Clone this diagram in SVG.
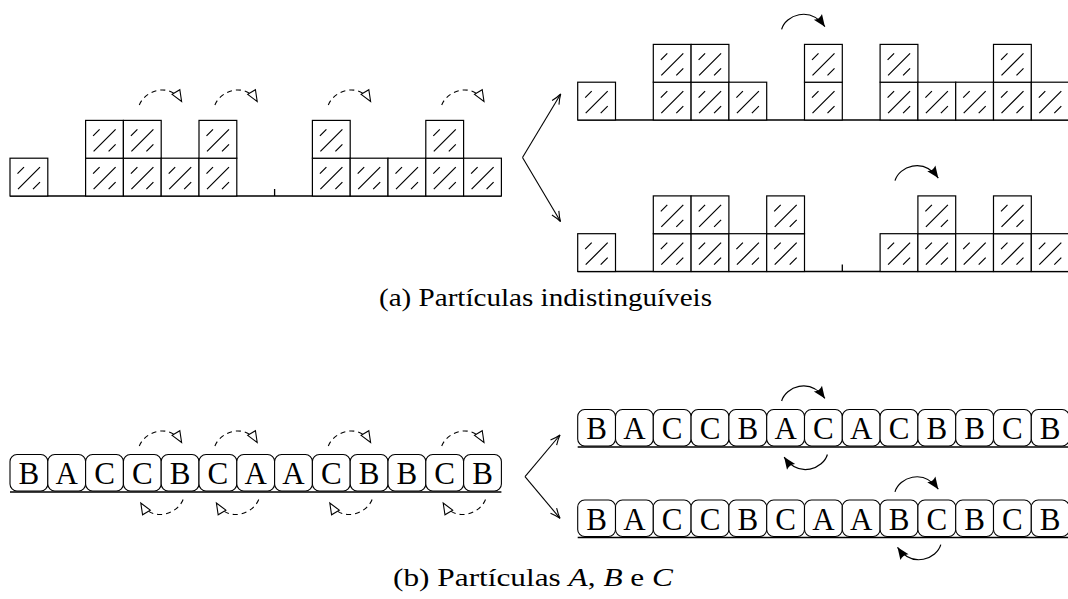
<svg xmlns="http://www.w3.org/2000/svg" width="1068" height="599" viewBox="0 0 1068 599">
<style>
.bx rect{fill:#fff;stroke:#000;stroke-width:1.2}
.bx path{fill:none;stroke:#000;stroke-width:1.2}
.ground{fill:none;stroke:#000;stroke-width:1.3}
.rb{fill:#fff;stroke:#000;stroke-width:1.1}
.lt{font-family:"Liberation Serif","Times New Roman",serif;font-size:31px;text-anchor:middle;fill:#000}
.cap{font-family:"Liberation Serif","Times New Roman",serif;font-size:25px;fill:#000}
.dash{fill:none;stroke:#000;stroke-width:1.1;stroke-dasharray:5 4;marker-end:url(#ot)}
.solid{fill:none;stroke:#000;stroke-width:1.2;marker-end:url(#ft)}
.br{fill:none;stroke:#000;stroke-width:1.1;marker-end:url(#vh)}
</style>
<defs>
<marker id="ot" markerUnits="userSpaceOnUse" markerWidth="18" markerHeight="18" viewBox="-14 -9 18 18" refX="0" refY="0" orient="auto">
<path d="M-11,-4.5 L0,0 L-11,4.5 Z" fill="#fff" stroke="#000" stroke-width="1.1" stroke-dasharray="none"/>
</marker>
<marker id="ft" markerUnits="userSpaceOnUse" markerWidth="18" markerHeight="18" viewBox="-14 -9 18 18" refX="0" refY="0" orient="auto">
<path d="M-12,-5 L0,0 L-12,5 Q-9,0 -12,-5 Z" fill="#000" stroke="none"/>
</marker>
<marker id="vh" markerUnits="userSpaceOnUse" markerWidth="16" markerHeight="16" viewBox="-13 -8 16 16" refX="0" refY="0" orient="auto">
<path d="M-10,-4 Q-4,-1 0,0 Q-4,1 -10,4" fill="none" stroke="#000" stroke-width="1.1"/>
</marker>
<g id="hb" class="bx"><rect x="0" y="0" width="37.8" height="37.8"/><path d="M7.5,15.5 L14,9 M8,31 L30,9 M23,31 L30,24"/></g>
</defs>

<!-- (a) left configuration -->
<g id="a-left">
<path class="ground" d="M10,196 H501.4 M274.6,196 V189"/>
<use href="#hb" x="10" y="158.2"/>
<use href="#hb" x="85.6" y="158.2"/><use href="#hb" x="85.6" y="120.4"/>
<use href="#hb" x="123.4" y="158.2"/><use href="#hb" x="123.4" y="120.4"/>
<use href="#hb" x="161.2" y="158.2"/>
<use href="#hb" x="199" y="158.2"/><use href="#hb" x="199" y="120.4"/>
<use href="#hb" x="312.4" y="158.2"/><use href="#hb" x="312.4" y="120.4"/>
<use href="#hb" x="350.2" y="158.2"/>
<use href="#hb" x="388" y="158.2"/>
<use href="#hb" x="425.8" y="158.2"/><use href="#hb" x="425.8" y="120.4"/>
<use href="#hb" x="463.6" y="158.2"/>
</g>

<!-- (a) upper right configuration -->
<g id="a-upper-right">
<path class="ground" d="M577.7,120 H1068"/>
<use href="#hb" x="577.7" y="82.2"/>
<use href="#hb" x="653.3" y="82.2"/><use href="#hb" x="653.3" y="44.4"/>
<use href="#hb" x="691.1" y="82.2"/><use href="#hb" x="691.1" y="44.4"/>
<use href="#hb" x="728.9" y="82.2"/>
<use href="#hb" x="804.5" y="82.2"/><use href="#hb" x="804.5" y="44.4"/>
<use href="#hb" x="880.1" y="82.2"/><use href="#hb" x="880.1" y="44.4"/>
<use href="#hb" x="917.9" y="82.2"/>
<use href="#hb" x="955.7" y="82.2"/>
<use href="#hb" x="993.5" y="82.2"/><use href="#hb" x="993.5" y="44.4"/>
<use href="#hb" x="1031.3" y="82.2"/>
</g>

<!-- (a) lower right configuration -->
<g id="a-lower-right">
<path class="ground" d="M577.7,271.5 H1068 M842.3,271.5 V264.5"/>
<use href="#hb" x="577.7" y="233.7"/>
<use href="#hb" x="653.3" y="233.7"/><use href="#hb" x="653.3" y="195.9"/>
<use href="#hb" x="691.1" y="233.7"/><use href="#hb" x="691.1" y="195.9"/>
<use href="#hb" x="728.9" y="233.7"/>
<use href="#hb" x="766.7" y="233.7"/><use href="#hb" x="766.7" y="195.9"/>
<use href="#hb" x="880.1" y="233.7"/>
<use href="#hb" x="917.9" y="233.7"/><use href="#hb" x="917.9" y="195.9"/>
<use href="#hb" x="955.7" y="233.7"/>
<use href="#hb" x="993.5" y="233.7"/><use href="#hb" x="993.5" y="195.9"/>
<use href="#hb" x="1031.3" y="233.7"/>
</g>

<!-- (b) left chain -->
<g id="b-left">
<rect class="rb" x="10" y="454.5" width="37.8" height="36.5" rx="7"/>
<rect class="rb" x="47.8" y="454.5" width="37.8" height="36.5" rx="7"/>
<rect class="rb" x="85.6" y="454.5" width="37.8" height="36.5" rx="7"/>
<rect class="rb" x="123.4" y="454.5" width="37.8" height="36.5" rx="7"/>
<rect class="rb" x="161.2" y="454.5" width="37.8" height="36.5" rx="7"/>
<rect class="rb" x="199" y="454.5" width="37.8" height="36.5" rx="7"/>
<rect class="rb" x="236.8" y="454.5" width="37.8" height="36.5" rx="7"/>
<rect class="rb" x="274.6" y="454.5" width="37.8" height="36.5" rx="7"/>
<rect class="rb" x="312.4" y="454.5" width="37.8" height="36.5" rx="7"/>
<rect class="rb" x="350.2" y="454.5" width="37.8" height="36.5" rx="7"/>
<rect class="rb" x="388" y="454.5" width="37.8" height="36.5" rx="7"/>
<rect class="rb" x="425.8" y="454.5" width="37.8" height="36.5" rx="7"/>
<rect class="rb" x="463.6" y="454.5" width="37.8" height="36.5" rx="7"/>
<path class="ground" d="M10,492 H501.4"/>
<text class="lt" y="484">
<tspan x="28.9">B</tspan><tspan x="66.7">A</tspan><tspan x="104.5">C</tspan><tspan x="142.3">C</tspan><tspan x="180.1">B</tspan><tspan x="217.9">C</tspan><tspan x="255.7">A</tspan><tspan x="293.5">A</tspan><tspan x="331.3">C</tspan><tspan x="369.1">B</tspan><tspan x="406.9">B</tspan><tspan x="444.7">C</tspan><tspan x="482.5">B</tspan>
</text>
</g>

<!-- (b) top right chain -->
<g id="b-top-right">
<rect class="rb" x="577.7" y="409.5" width="37.8" height="36.5" rx="7"/>
<rect class="rb" x="615.5" y="409.5" width="37.8" height="36.5" rx="7"/>
<rect class="rb" x="653.3" y="409.5" width="37.8" height="36.5" rx="7"/>
<rect class="rb" x="691.1" y="409.5" width="37.8" height="36.5" rx="7"/>
<rect class="rb" x="728.9" y="409.5" width="37.8" height="36.5" rx="7"/>
<rect class="rb" x="766.7" y="409.5" width="37.8" height="36.5" rx="7"/>
<rect class="rb" x="804.5" y="409.5" width="37.8" height="36.5" rx="7"/>
<rect class="rb" x="842.3" y="409.5" width="37.8" height="36.5" rx="7"/>
<rect class="rb" x="880.1" y="409.5" width="37.8" height="36.5" rx="7"/>
<rect class="rb" x="917.9" y="409.5" width="37.8" height="36.5" rx="7"/>
<rect class="rb" x="955.7" y="409.5" width="37.8" height="36.5" rx="7"/>
<rect class="rb" x="993.5" y="409.5" width="37.8" height="36.5" rx="7"/>
<rect class="rb" x="1031.3" y="409.5" width="37.8" height="36.5" rx="7"/>
<path class="ground" d="M577.7,447 H1068"/>
<text class="lt" y="439">
<tspan x="596.6">B</tspan><tspan x="634.4">A</tspan><tspan x="672.2">C</tspan><tspan x="710">C</tspan><tspan x="747.8">B</tspan><tspan x="785.6">A</tspan><tspan x="823.4">C</tspan><tspan x="861.2">A</tspan><tspan x="899">C</tspan><tspan x="936.8">B</tspan><tspan x="974.6">B</tspan><tspan x="1012.4">C</tspan><tspan x="1050.2">B</tspan>
</text>
</g>

<!-- (b) bottom right chain -->
<g id="b-bottom-right">
<rect class="rb" x="577.7" y="500" width="37.8" height="36.5" rx="7"/>
<rect class="rb" x="615.5" y="500" width="37.8" height="36.5" rx="7"/>
<rect class="rb" x="653.3" y="500" width="37.8" height="36.5" rx="7"/>
<rect class="rb" x="691.1" y="500" width="37.8" height="36.5" rx="7"/>
<rect class="rb" x="728.9" y="500" width="37.8" height="36.5" rx="7"/>
<rect class="rb" x="766.7" y="500" width="37.8" height="36.5" rx="7"/>
<rect class="rb" x="804.5" y="500" width="37.8" height="36.5" rx="7"/>
<rect class="rb" x="842.3" y="500" width="37.8" height="36.5" rx="7"/>
<rect class="rb" x="880.1" y="500" width="37.8" height="36.5" rx="7"/>
<rect class="rb" x="917.9" y="500" width="37.8" height="36.5" rx="7"/>
<rect class="rb" x="955.7" y="500" width="37.8" height="36.5" rx="7"/>
<rect class="rb" x="993.5" y="500" width="37.8" height="36.5" rx="7"/>
<rect class="rb" x="1031.3" y="500" width="37.8" height="36.5" rx="7"/>
<path class="ground" d="M577.7,537.5 H1068"/>
<text class="lt" y="529.5">
<tspan x="596.6">B</tspan><tspan x="634.4">A</tspan><tspan x="672.2">C</tspan><tspan x="710">C</tspan><tspan x="747.8">B</tspan><tspan x="785.6">C</tspan><tspan x="823.4">A</tspan><tspan x="861.2">A</tspan><tspan x="899">B</tspan><tspan x="936.8">C</tspan><tspan x="974.6">B</tspan><tspan x="1012.4">C</tspan><tspan x="1050.2">B</tspan>
</text>
</g>

<!-- connectors -->
<g id="connectors">
<path class="dash" d="M139.3,105 c5.7,-15 30.7,-23 42.3,-3.5"/>
<path class="dash" d="M214.9,105 c5.7,-15 30.7,-23 42.3,-3.5"/>
<path class="dash" d="M328.3,105 c5.7,-15 30.7,-23 42.3,-3.5"/>
<path class="dash" d="M441.7,105 c5.7,-15 30.7,-23 42.3,-3.5"/>
<path class="solid" d="M781.6,29.3 c4,-14 28,-24 43.3,-2.6"/>
<path class="solid" d="M895,180.7 c4,-14 28,-24 43.3,-2.6"/>
<path class="br" d="M522.5,157.5 L560.7,94"/>
<path class="br" d="M522.5,157.5 L560.5,221.5"/>

<path class="dash" d="M139.3,446 c5.7,-15 30.7,-23 42.3,-3.5"/>
<path class="dash" d="M214.9,446 c5.7,-15 30.7,-23 42.3,-3.5"/>
<path class="dash" d="M328.3,446 c5.7,-15 30.7,-23 42.3,-3.5"/>
<path class="dash" d="M441.7,446 c5.7,-15 30.7,-23 42.3,-3.5"/>
<path class="dash" transform="rotate(180 161.2 472.75)" d="M139.3,446 c5.7,-15 30.7,-23 42.3,-3.5"/>
<path class="dash" transform="rotate(180 236.8 472.75)" d="M214.9,446 c5.7,-15 30.7,-23 42.3,-3.5"/>
<path class="dash" transform="rotate(180 350.2 472.75)" d="M328.3,446 c5.7,-15 30.7,-23 42.3,-3.5"/>
<path class="dash" transform="rotate(180 463.6 472.75)" d="M441.7,446 c5.7,-15 30.7,-23 42.3,-3.5"/>
<path class="solid" d="M781.6,401 c4,-14 28,-24 43.3,-2.6"/>
<path class="solid" transform="rotate(180 804.5 427.75)" d="M781.6,401 c4,-14 28,-24 43.3,-2.6"/>
<path class="solid" d="M895,491.8 c4,-14 28,-24 43.3,-2.6"/>
<path class="solid" transform="rotate(180 917.9 518.25)" d="M895,491.8 c4,-14 28,-24 43.3,-2.6"/>
<path class="br" d="M525,476.7 L560,435"/>
<path class="br" d="M525,476.7 L560,518.3"/>
</g>

<!-- captions -->
<text class="cap" x="379" y="306" textLength="333" lengthAdjust="spacingAndGlyphs">(a) Partículas indistinguíveis</text>
<text class="cap" x="393" y="586" textLength="280" lengthAdjust="spacingAndGlyphs">(b) Partículas <tspan font-style="italic">A</tspan>, <tspan font-style="italic">B</tspan> e <tspan font-style="italic">C</tspan></text>
</svg>
